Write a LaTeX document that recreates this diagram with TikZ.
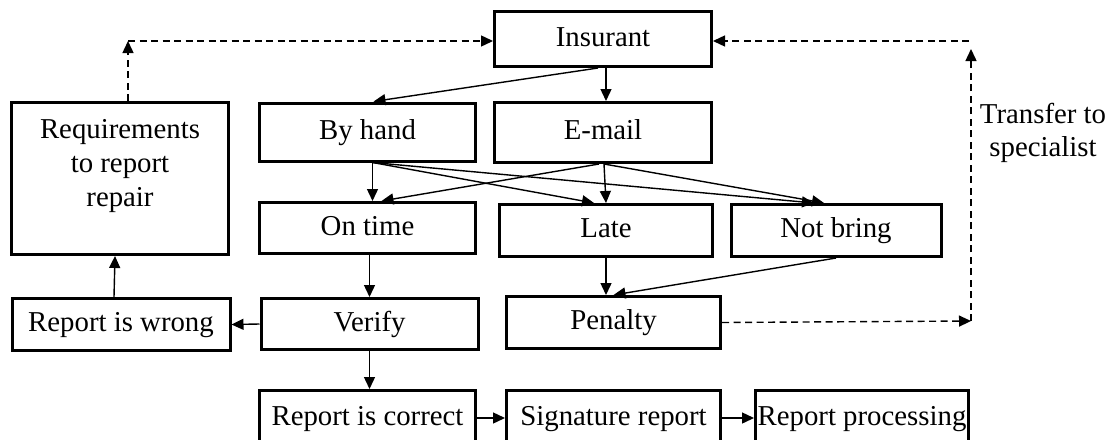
\documentclass[tikz,border=0pt]{standalone}
\usepackage{fontspec}
\setmainfont{Liberation Serif}
\usepackage{tikz}
\usetikzlibrary{arrows.meta,positioning}

\begin{document}
\begin{tikzpicture}[x=1pt,y=-1pt,
  box/.style={draw, line width=3pt, inner sep=2pt, align=center,
    text height=20pt, text depth=6pt,
    font=\fontsize{28.8}{33}\selectfont},
  arr/.style={-{Triangle[length=12pt,width=11pt]}, line width=1.4pt},
  darr/.style={arr, dash pattern=on 7pt off 4.5pt}]

  % Canvas
  \useasboundingbox (0,0) rectangle (1115,439);

  % Top row
  \node[box, minimum width=217pt, minimum height=55pt] (ins) at (603,39) {Insurant};
  \node[box, minimum width=216pt, minimum height=58pt] (hand) at (367.5,132) {By hand};
  \node[box, minimum width=217pt, minimum height=60pt] (mail) at (603,132.5) {E-mail};
  \node[box, minimum width=217pt, minimum height=152pt, text height=, text depth=,
    font=\fontsize{28.8}{34}\selectfont]
    (req) at (120,178.5) {Requirements\\to report\\repair\\[-14pt]\strut};

  % Delivery
  \node[box, minimum width=216pt, minimum height=51pt] (ontime) at (367.5,228) {On time};
  \node[box, minimum width=213pt, minimum height=52pt] (late) at (606,230.5) {Late};
  \node[box, minimum width=210pt, minimum height=52pt] (notbring) at (836,230.5) {Not bring};

  % Checking
  \node[box, minimum width=218pt, minimum height=52pt] (wrong) at (121,324.5) {Report is wrong};
  \node[box, minimum width=217pt, minimum height=51pt] (verify) at (369.5,324) {Verify};
  \node[box, minimum width=214pt, minimum height=52pt] (penalty) at (613.5,322.5) {Penalty};

  % Bottom row
  \node[box, minimum width=216pt, minimum height=55pt] (correct) at (367.5,418) {Report is correct};
  \node[box, minimum width=214pt, minimum height=55pt] (sign) at (613.5,418) {Signature report};
  \node[box, minimum width=213pt, minimum height=55pt] (proc) at (862,418) {Report processing};

  % Side label
  \node[align=center, font=\fontsize{28.8}{33}\selectfont] (transfer) at (1043,132.5)
    {Transfer to\\specialist};

  % Corners of the dashed loops
  \coordinate (tl) at (128,41);
  \coordinate (tr) at (969,41);
  \coordinate (br) at (971,321);

  % Solid arrows
  \draw[arr] ([xshift=-5pt]ins.south) -- ([xshift=6pt]hand.north);
  \draw[arr] ([xshift=3pt]ins.south) -- ([xshift=3pt]mail.north);
  \draw[arr] ([xshift=5pt]hand.south) -- ([xshift=5pt]ontime.north);
  \draw[arr] ([xshift=5pt]hand.south) -- ([xshift=-12pt]late.north);
  \draw[arr] ([xshift=5pt]hand.south) -- ([xshift=-22pt]notbring.north);
  \draw[arr] ([xshift=-4pt]mail.south) -- ([xshift=14pt]ontime.north);
  \draw[arr] ([xshift=1pt]mail.south) -- (late.north);
  \draw[arr] ([xshift=1pt]mail.south) -- ([xshift=-12pt]notbring.north);
  \draw[arr] (late.south) -- (late.south |- penalty.north);
  \draw[arr] (notbring.south) -- (penalty.north);
  \draw[arr] ([xshift=2pt]ontime.south) -- (verify.north);
  \draw[arr] (verify.west) -- (wrong.east);
  \draw[arr] ([xshift=-7pt]wrong.north) -- ([xshift=-5pt]req.south);
  \draw[arr] (verify.south) -- (verify.south |- correct.north);
  \draw[arr] (correct.east) -- (sign.west);
  \draw[arr] (sign.east) -- (proc.west);

  % Dashed loops
  \draw[darr] (req.north -| tl) -- (tl);
  \draw[darr] (tl) -- (tl -| ins.west);
  \draw[darr] (penalty.east) -- (br);
  \draw[darr] (br) -- ([yshift=-8pt]br |- tr);
  \draw[darr] (tr) -- (tr -| ins.east);

\end{tikzpicture}
\end{document}
